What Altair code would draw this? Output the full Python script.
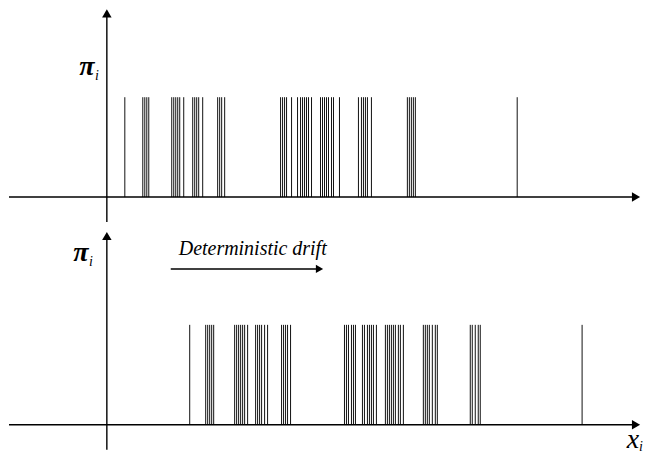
import altair as alt
import pandas as pd

# spike positions (x_i, relative to vertical axis)
top_x = [18, 36, 38, 40, 42, 65, 67, 69, 71, 73, 77, 86, 88, 90, 92, 96,
         111, 113, 115, 118, 174, 176, 178, 180, 185, 191, 194, 196, 198,
         200, 202, 205, 214, 216, 218, 220, 222, 225, 227, 233, 252, 255,
         257, 259, 261, 265, 301, 303, 305, 307, 309, 411]
bottom_x = [83, 99, 101, 103, 105, 107, 128, 130, 132, 134, 136, 138, 141,
            149, 151, 153, 155, 158, 161, 175, 177, 179, 181, 184, 238, 240,
            242, 245, 247, 249, 256, 258, 261, 263, 265, 267, 270, 279, 281,
            283, 285, 287, 289, 292, 294, 297, 317, 319, 321, 323, 326, 329,
            331, 364, 366, 369, 372, 374, 476]
pi_value = 1.0

W = 635
XDOM = [-98, 537]
FONT = "Liberation Serif"


def panel(xs, height, ydom, vtip, vbottom, labels, extra=None):
    xs_scale = alt.Scale(domain=XDOM, nice=False, zero=False)
    ys_scale = alt.Scale(domain=ydom, nice=False, zero=False)
    X = lambda f: alt.X(f, type="quantitative", scale=xs_scale, axis=None)
    Y = lambda f: alt.Y(f, type="quantitative", scale=ys_scale, axis=None)

    spikes = pd.DataFrame({"x": xs, "y0": 0.0, "y1": pi_value})
    spk = alt.Chart(spikes).mark_rule(color="#111111", strokeWidth=1).encode(
        x=X("x"), y=Y("y0"), y2="y1")

    hax = alt.Chart(pd.DataFrame({"a": [-98], "b": [528], "y": [0]})).mark_rule(
        color="black", strokeWidth=1.4).encode(x=X("a"), x2="b", y=Y("y"))
    harrow = alt.Chart(pd.DataFrame({"x": [530], "y": [0]})).mark_point(
        shape="triangle-right", filled=True, color="black", size=90, opacity=1).encode(
        x=X("x"), y=Y("y"))
    vax = alt.Chart(pd.DataFrame({"x": [0], "a": [vbottom], "b": [vtip]})).mark_rule(
        color="black", strokeWidth=1.4).encode(x=X("x"), y=Y("a"), y2="b")
    varrow = alt.Chart(pd.DataFrame({"x": [0], "y": [vtip]})).mark_point(
        shape="triangle-up", filled=True, color="black", size=90, opacity=1).encode(
        x=X("x"), y=Y("y"))

    layers = [spk, hax, harrow, vax, varrow]
    for (txt, lx, ly, sz, wt) in labels:
        layers.append(alt.Chart(pd.DataFrame({"t": [txt], "x": [lx], "y": [ly]})).mark_text(
            font=FONT, fontStyle="italic", fontSize=sz, fontWeight=wt, color="black",
            align="center", baseline="middle").encode(x=X("x"), y=Y("y"), text="t:N"))
    if extra:
        layers += extra(X, Y)
    return alt.layer(*layers).properties(width=W, height=height)


def drift(X, Y):
    txt = alt.Chart(pd.DataFrame({"t": ["Deterministic drift"], "x": [72], "y": [1.70]})).mark_text(
        font=FONT, fontStyle="italic", fontSize=20, color="black",
        align="left", baseline="alphabetic").encode(x=X("x"), y=Y("y"), text="t:N")
    arr = alt.Chart(pd.DataFrame({"a": [64], "b": [211], "y": [1.56]})).mark_rule(
        color="black", strokeWidth=1.4).encode(x=X("a"), x2="b", y=Y("y"))
    head = alt.Chart(pd.DataFrame({"x": [213], "y": [1.56]})).mark_point(
        shape="triangle-right", filled=True, color="black", size=70, opacity=1).encode(
        x=X("x"), y=Y("y"))
    return [txt, arr, head]


top = panel(top_x, 217, [-0.28, 1.89], 1.84, -0.25,
            [("π", -20, 1.30, 28, "bold"), ("i", -10, 1.21, 14, "normal")])
bottom = panel(bottom_x, 228, [-0.28, 2.0], 1.89, -0.25,
               [("π", -26, 1.72, 28, "bold"), ("i", -16, 1.63, 14, "normal"),
                ("x", 527, -0.15, 28, "normal"), ("i", 535, -0.22, 14, "normal")],
               extra=drift)

chart = alt.vconcat(top, bottom, spacing=0).properties(padding=0).configure_view(
    strokeWidth=0)

chart.save("out.html", embed_options={"renderer": "svg", "actions": False})
